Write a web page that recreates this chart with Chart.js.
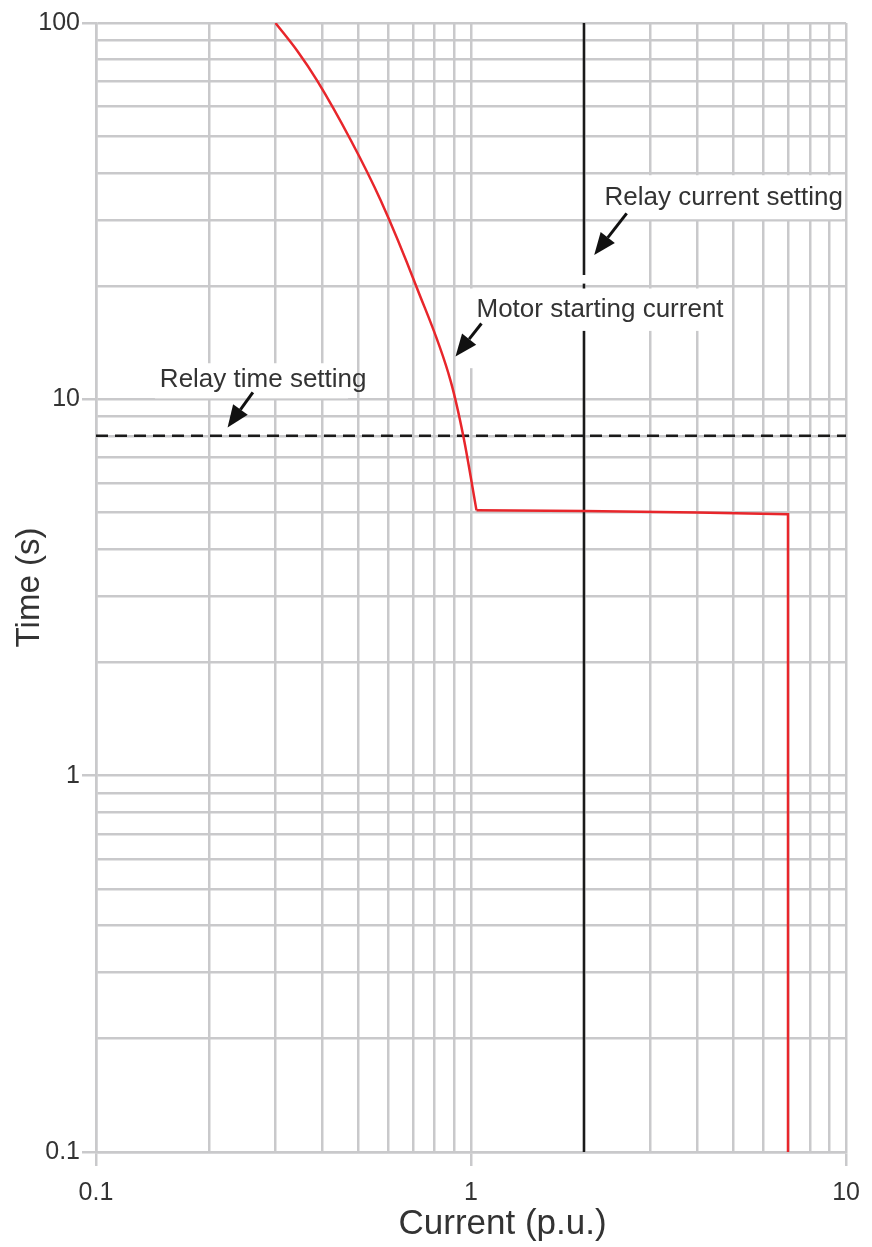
<!DOCTYPE html>
<html>
<head>
<meta charset="utf-8">
<script src="https://cdn.jsdelivr.net/npm/chart.js@4.4.1/dist/chart.umd.min.js"></script>
<style>
  html, body { margin: 0; padding: 0; background: #fff; }
</style>
</head>
<body>
<canvas id="chart" width="872" height="1247"></canvas>
<script>
// motor starting curve (current p.u., time s)
var startCurrent = [0.301, 0.345, 0.388, 0.478, 0.574, 0.716, 0.882, 0.955, 1.034];
var startTime    = [100, 84, 70.5, 48.8, 33.8, 19.86, 11.2, 7.93, 5.07];
// flat part and drop-off
var runCurrent = [1.034, 2, 4, 5.5, 7.0, 7.0];
var runTime    = [5.07, 5.05, 5.0, 4.97, 4.95, 0.1];

var relayCurrent = 2;   // p.u.
var relayTime = 8;      // s

var xDecades = [0.1, 1, 10];
var yDecades = [0.1, 1, 10, 100];
var xTickLabels = ['0.1', '1', '10'];
var yTickLabels = ['0.1', '1', '10', '100'];

function logTicks(decades) {
    var out = [];
    for (var i = 0; i < decades.length - 1; i++) {
        for (var m = 1; m < 10; m++) out.push(+(m * decades[i]).toPrecision(3));
    }
    out.push(decades[decades.length - 1]);
    return out;
}

function pts(xs, ys) {
    return xs.map(function (x, i) { return { x: x, y: ys[i] }; });
}

// text callouts: label anchor, white boxes behind, arrow start -> tip (data coords)
var callouts = [
    { text: 'Relay current setting', at: [2.27, 34.4],
      boxes: [[2.07, 39.4, 9.76, 30.1]],
      arrow: [[2.6, 31.2], [2.13, 24.2]] },
    { text: 'Motor starting current', at: [1.034, 17.25],
      boxes: [[0.955, 19.7, 4.82, 15.2], [0.955, 15.2, 1.066, 12.1], [1.92, 21.4, 2.09, 20.3]],
      arrow: [[1.066, 15.9], [0.909, 13.0]] },
    { text: 'Relay time setting', at: [0.148, 11.3],
      boxes: [[0.1436, 12.47, 0.47, 10.06]],
      arrow: [[0.262, 10.44], [0.2243, 8.42]] }
];

var gridGrey = '#c9c9cb';
var textGrey = '#333333';
var fontFamily = '"Liberation Sans", Arial, sans-serif';

var calloutPlugin = {
    id: 'callouts',
    afterDatasetsDraw: function (chart) {
        var ctx = chart.ctx;
        var xs = chart.scales.x, ys = chart.scales.y;
        function P(v) { return [xs.getPixelForValue(v[0]), ys.getPixelForValue(v[1])]; }
        ctx.save();
        callouts.forEach(function (c) {
            ctx.fillStyle = '#ffffff';
            c.boxes.forEach(function (b) {
                var a = P([b[0], b[1]]), d = P([b[2], b[3]]);
                ctx.fillRect(a[0], a[1], d[0] - a[0], d[1] - a[1]);
            });
            var t = P(c.at);
            ctx.fillStyle = textGrey;
            ctx.font = '26px ' + fontFamily;
            ctx.textAlign = 'left';
            ctx.textBaseline = 'middle';
            ctx.fillText(c.text, t[0], t[1]);

            var s = P(c.arrow[0]), e = P(c.arrow[1]);
            var ang = Math.atan2(e[1] - s[1], e[0] - s[0]);
            var headLen = 22, headW = 9;
            var bx = e[0] - headLen * Math.cos(ang), by = e[1] - headLen * Math.sin(ang);
            ctx.strokeStyle = '#111111';
            ctx.lineWidth = 3;
            ctx.beginPath();
            ctx.moveTo(s[0], s[1]);
            ctx.lineTo(bx, by);
            ctx.stroke();
            ctx.fillStyle = '#111111';
            ctx.beginPath();
            ctx.moveTo(e[0], e[1]);
            ctx.lineTo(bx + headW * Math.sin(ang), by - headW * Math.cos(ang));
            ctx.lineTo(bx - headW * Math.sin(ang), by + headW * Math.cos(ang));
            ctx.closePath();
            ctx.fill();
        });

        // x axis title, sits a little right of centre in the original
        var area = chart.chartArea;
        ctx.fillStyle = textGrey;
        ctx.font = '35px ' + fontFamily;
        ctx.textAlign = 'center';
        ctx.textBaseline = 'middle';
        ctx.fillText('Current (p.u.)', area.left + 0.542 * (area.right - area.left), area.bottom + 72);
        ctx.restore();
    }
};

function isDecade(v, list) {
    return list.some(function (d) { return Math.abs(v - d) < d * 1e-6; });
}

var ctx = document.getElementById('chart').getContext('2d');
var chart = new Chart(ctx, {
    type: 'line',
    data: {
        datasets: [
            { data: pts(startCurrent, startTime), borderColor: '#e8262b', borderWidth: 2.5,
              pointRadius: 0, cubicInterpolationMode: 'monotone', fill: false },
            { data: pts(runCurrent, runTime), borderColor: '#e8262b', borderWidth: 2.5,
              pointRadius: 0, tension: 0, fill: false },
            { data: [{ x: relayCurrent, y: 0.1 }, { x: relayCurrent, y: 100 }],
              borderColor: '#1a1a1a', borderWidth: 2.5, pointRadius: 0, fill: false },
            { data: [{ x: 0.1, y: relayTime }, { x: 10, y: relayTime }],
              borderColor: '#1a1a1a', borderWidth: 2.5, borderDash: [12, 7],
              pointRadius: 0, fill: false }
        ]
    },
    options: {
        responsive: false,
        animation: false,
        devicePixelRatio: 1,
        layout: { padding: { top: 23, right: 25, left: 0, bottom: 0 } },
        plugins: {
            legend: { display: false },
            tooltip: { enabled: false }
        },
        scales: {
            x: {
                type: 'logarithmic',
                min: 0.1, max: 10,
                afterBuildTicks: function (scale) {
                    scale.ticks = logTicks(xDecades).map(function (v) { return { value: v }; });
                },
                afterFit: function (scale) { scale.height = 95; },
                ticks: {
                    autoSkip: false, maxRotation: 0, padding: 12,
                    color: textGrey,
                    font: { family: fontFamily, size: 25 },
                    callback: function (v) {
                        var i = xDecades.findIndex(function (d) { return Math.abs(v - d) < d * 1e-6; });
                        return i >= 0 ? xTickLabels[i] : '';
                    }
                },
                grid: {
                    color: gridGrey, lineWidth: 2.5, tickLength: 14,
                    tickColor: function (c) { return isDecade(c.tick.value, xDecades) ? gridGrey : 'rgba(0,0,0,0)'; }
                },
                border: { color: gridGrey, width: 2.5 },
                title: { display: false }
            },
            y: {
                type: 'logarithmic',
                min: 0.1, max: 100,
                afterBuildTicks: function (scale) {
                    scale.ticks = logTicks(yDecades).map(function (v) { return { value: v }; });
                },
                afterFit: function (scale) { scale.width = 96; },
                ticks: {
                    autoSkip: false, padding: 2,
                    color: textGrey,
                    font: { family: fontFamily, size: 25 },
                    callback: function (v) {
                        var i = yDecades.findIndex(function (d) { return Math.abs(v - d) < d * 1e-6; });
                        return i >= 0 ? yTickLabels[i] : '';
                    }
                },
                grid: {
                    color: gridGrey, lineWidth: 2.5, tickLength: 14,
                    tickColor: function (c) { return isDecade(c.tick.value, yDecades) ? gridGrey : 'rgba(0,0,0,0)'; }
                },
                border: { color: gridGrey, width: 2.5 },
                title: {
                    display: true, text: 'Time (s)', color: textGrey,
                    font: { family: fontFamily, size: 33 },
                    padding: { top: 10, bottom: 0 }
                }
            }
        }
    },
    plugins: [calloutPlugin]
});
</script>
</body>
</html>
